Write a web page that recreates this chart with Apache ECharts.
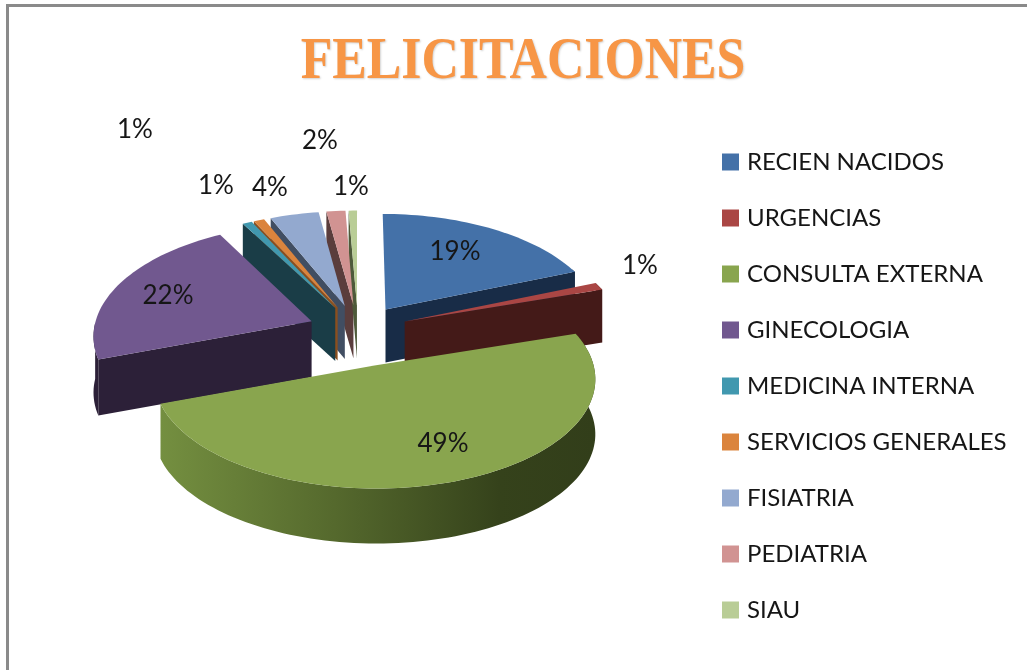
<!DOCTYPE html>
<html lang="es">

<head>
    <meta charset="UTF-8">
    <title>Felicitaciones</title>
    <script src="https://cdn.jsdelivr.net/npm/echarts@6/dist/echarts.min.js"></script>
    <style>
        html, body { margin: 0; padding: 0; background: #fff; }
        #main { width: 1027px; height: 670px; }
    </style>
</head>

<body>
    <div id="main"></div>
    <script>
        // datos (%), estimados con un decimal segun el angulo de cada rebanada
        var categorias = ['RECIEN NACIDOS', 'URGENCIAS', 'CONSULTA EXTERNA', 'GINECOLOGIA', 'MEDICINA INTERNA', 'SERVICIOS GENERALES', 'FISIATRIA', 'PEDIATRIA', 'SIAU'];
        var valores = [19, 1.1, 49.4, 22.4, 0.8, 0.9, 4.1, 1.6, 0.7];

        // colores: cara superior y pared lateral
        var colores = ['#4471a8', '#aa4644', '#89a54e', '#71588f', '#4198af', '#db843d', '#93a9cf', '#d19392', '#b9cd96'];
        var paredes = ['#182c47', '#441a18', '#3c4a20', '#2c2038', '#1a3d47', '#8a4f1e', '#414e62', '#5a3d3c', '#4e5a3a'];

        // centro de cada etiqueta de porcentaje
        var posEtiquetas = [[455, 252], [640, 266], [443, 444], [168, 296], [135, 130], [216, 186], [270, 188], [320, 141], [351, 187]];

        // proyeccion de la torta 3D
        var cx = 358, cy = 330, R = 218, explode = 50, incl = 0.509, persp = 0.1155, alto = 53;
        // la rebanada grande esta mas baja y mas aplastada en el original
        var bajaY = [0, 0, 12, 0, 0, 0, 0, 0, 0];
        var escalaY = [1, 1, 0.95, 1, 1, 1, 1, 1, 1];
        var radioRel = [1, 1, 0.98, 1, 1, 1, 1, 1, 1];
        var altoExtra = [0, 0, 2, 3, 0, 0, 0, 0, 0];
        var fuente = 'Lato, "Noto Sans", sans-serif';

        var total = valores.reduce(function (a, b) { return a + b; }, 0);

        function renderRebanada(idx, ini, fin) {
            function proyecta(x, y) {
                var k = 1 / (1 + persp * y / R);
                return [cx + x * k, cy + bajaY[idx] - incl * escalaY[idx] * y * k];
            }
            function abajo(p) {
                return [p[0], p[1] + alto + altoExtra[idx]];
            }
            return function (params, api) {
                var medio = (ini + fin) / 2;
                var ox = explode * Math.sin(medio), oy = explode * Math.cos(medio);
                var apice = proyecta(ox, oy);
                var rad = R * radioRel[idx];
                var arco = [], arcoVisible = [];
                var pasos = Math.max(2, Math.ceil((fin - ini) / 0.03));
                for (var i = 0; i <= pasos; i++) {
                    var t = ini + (fin - ini) * i / pasos;
                    var p = proyecta(ox + rad * Math.sin(t), oy + rad * Math.cos(t));
                    arco.push(p);
                    if (Math.cos(t) < (Math.sin(t) > 0 ? 0.4 : 0)) arcoVisible.push(p);
                }
                var orden = Math.round((1 - Math.cos(medio)) * 100); // lo lejano primero
                var hijos = [];

                // pared exterior
                var relleno = paredes[idx];
                if (idx === 2) {
                    relleno = new echarts.graphic.LinearGradient(0, 0, 1, 0, [
                        { offset: 0, color: '#748f40' },
                        { offset: 0.4, color: '#55692d' },
                        { offset: 0.78, color: '#35421b' },
                        { offset: 1, color: '#323e1a' }
                    ]);
                }
                if (arcoVisible.length > 1) {
                    hijos.push({
                        type: 'polygon', z2: orden,
                        shape: { points: arcoVisible.concat(arcoVisible.map(abajo).reverse()) },
                        style: { fill: relleno }
                    });
                }

                // paredes rectas, solo las que miran al frente
                [[arco[0], Math.sin(ini) < -1e-6], [arco[arco.length - 1], Math.sin(fin) > 1e-6]].forEach(function (w) {
                    if (!w[1]) return;
                    hijos.push({
                        type: 'polygon', z2: orden + 1,
                        shape: { points: [apice, w[0], abajo(w[0]), abajo(apice)] },
                        style: { fill: paredes[idx] }
                    });
                });

                // cara superior
                hijos.push({
                    type: 'polygon', z2: orden + 2,
                    shape: { points: [apice].concat(arco) },
                    style: { fill: colores[idx] }
                });

                // etiqueta
                hijos.push({
                    type: 'text', z2: 1000,
                    style: {
                        text: Math.round(api.value(0)) + '%',
                        x: posEtiquetas[idx][0], y: posEtiquetas[idx][1],
                        fill: '#161616', font: '26px ' + fuente,
                        align: 'center', verticalAlign: 'middle'
                    }
                });
                return { type: 'group', children: hijos };
            };
        }

        var series = [];
        var acum = 0;
        categorias.forEach(function (nombre, i) {
            var ini = acum / total * Math.PI * 2;
            acum += valores[i];
            var fin = acum / total * Math.PI * 2;
            series.push({
                name: nombre,
                type: 'custom',
                coordinateSystem: 'none',
                silent: true,
                itemStyle: { color: colores[i] },
                data: [[valores[i]]],
                renderItem: renderRebanada(i, ini, fin)
            });
        });

        var chart = echarts.init(document.getElementById('main'));
        chart.setOption({
            animation: false,
            backgroundColor: '#fff',
            legend: {
                orient: 'vertical',
                left: 717,
                top: 142,
                icon: 'rect',
                itemWidth: 17,
                itemHeight: 17,
                itemGap: 26,
                selectedMode: false,
                data: categorias,
                textStyle: {
                    color: '#161616',
                    fontFamily: 'Lato, "Noto Sans", sans-serif',
                    fontSize: 24,
                    lineHeight: 30,
                    padding: [0, 0, 0, 3]
                }
            },
            graphic: [{
                type: 'rect',
                silent: true,
                shape: { x: 7.5, y: 5.5, width: 1200, height: 900 },
                style: { fill: 'none', stroke: '#8a8a8a', lineWidth: 3 }
            }, {
                // titulo: letra alta y estrecha como en el original
                type: 'text',
                silent: true,
                x: 523,
                y: 62,
                scaleX: 0.862,
                style: {
                    text: 'FELICITACIONES',
                    font: 'bold 60px "Liberation Serif", serif',
                    fill: '#f79646',
                    align: 'center',
                    verticalAlign: 'middle',
                    textShadowColor: 'rgba(0,0,0,0.18)',
                    textShadowBlur: 2,
                    textShadowOffsetX: 1,
                    textShadowOffsetY: 1
                }
            }],
            series: series
        });
    </script>
</body>

</html>
